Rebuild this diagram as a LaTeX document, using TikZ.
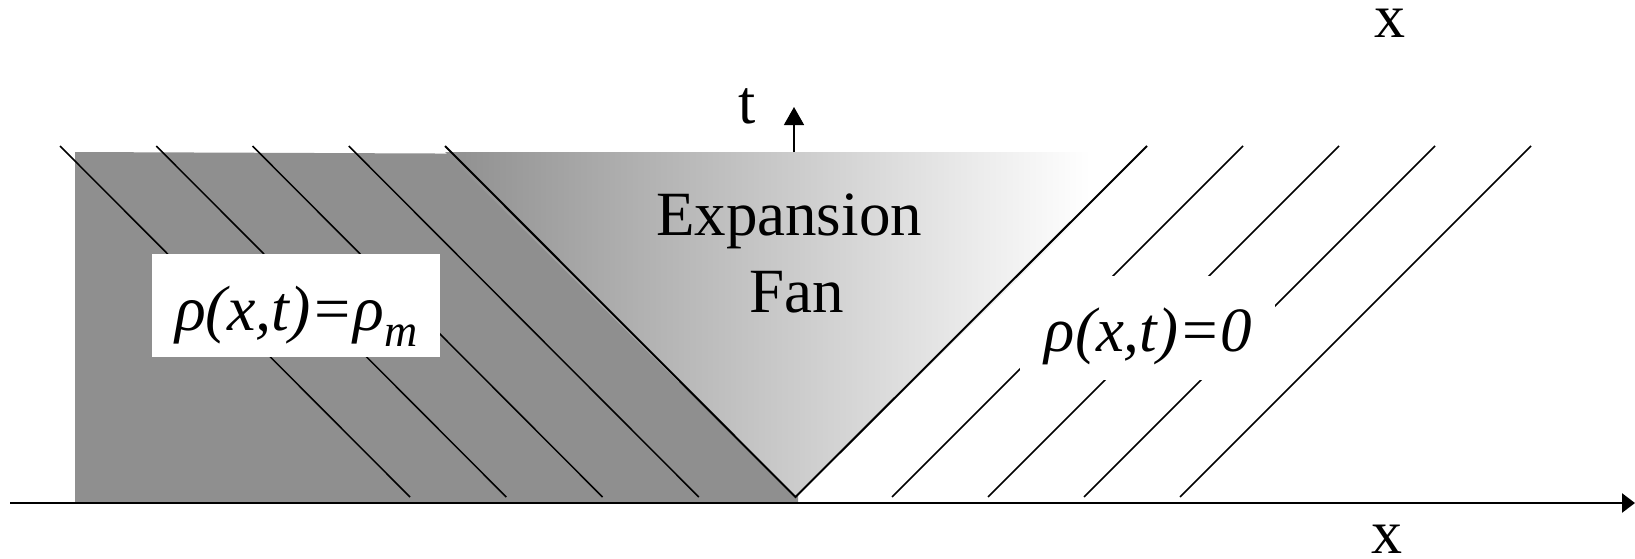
\documentclass[tikz,border=0pt]{standalone}
\usepackage{fontspec}
\setmainfont{Liberation Serif}
\usetikzlibrary{arrows.meta}
\definecolor{regiongray}{RGB}{143,143,143}
\begin{document}
\begin{tikzpicture}[x=1pt,y=-1pt,
  hatch/.style={line width=1.5pt, black},
  fanline/.style={line width=2pt, black},
  labelbox/.style={fill=white, inner sep=0pt, draw=none},
  lbl/.style={inner sep=0pt, anchor=base, font=\fontsize{62}{62}\selectfont},
  axisline/.style={line width=2.6pt, -{Triangle[length=13pt,width=19pt]}},
  taxis/.style={line width=1.5pt, -{Triangle[length=18pt,width=20pt]}}]
\useasboundingbox (0,0) rectangle (1635,558);
\fill[white] (0,0) rectangle (1635,558);
% uniform region
\fill[regiongray] (75,152) -- (798,155) -- (798,503) -- (75,503) -- cycle;
% expansion fan with gradient
\begin{scope}
  \clip (445,152) -- (1147,152) -- (795.5,497) -- cycle;
  \shade[left color=regiongray, right color=white] (445,140) rectangle (1090,505);
\end{scope}
% characteristics
\foreach \k in {0,...,3} {
  \draw[hatch] ({60+96.25*\k},146) -- ({410+96.25*\k},497);
}
\coordinate (fanL) at (445,146);
\coordinate (apex) at (795.5,497);
\coordinate (fanR) at (1147,146);
\draw[fanline] (fanL) -- (apex) -- (fanR);
\foreach \k in {1,...,4} {
  \draw[hatch] ({1147+96*\k},146) -- ({796+96*\k},497);
}
% label boxes
\node[labelbox, minimum width=288pt, minimum height=103pt] (box1) at (296,305.5) {};
\node[labelbox, minimum width=255pt, minimum height=104pt] (box2) at (1147.5,328) {};
% texts
\node[lbl, font=\fontsize{64}{64}\selectfont\itshape] (rhom) at (296.5,330)
  {ρ(x,t)=ρ\raisebox{-0.25em}{\fontsize{46}{46}\selectfont m}};
\node[lbl, font=\fontsize{63}{63}\selectfont\itshape] (rho0) at (1148.5,351) {ρ(x,t)=0};
\node[lbl, font=\fontsize{63}{63}\selectfont] (exp) at (789,235) {Expansion};
\node[lbl, font=\fontsize{63}{63}\selectfont] (fan) at (796.5,312) {Fan};
\node[lbl] (tlab) at (747,123) {t};
\node[lbl] (xtop) at (1390,37) {x};
\node[lbl] (xbot) at (1387,553) {x};
% axes
\coordinate (tbase) at (794,152);
\coordinate (ttip) at (794,107);
\draw[taxis] (tbase) -- (ttip);
\coordinate (axl) at (10,503);
\coordinate (axr) at (1635,503);
\draw[axisline] (axl) -- (axr);
\end{tikzpicture}
\end{document}
